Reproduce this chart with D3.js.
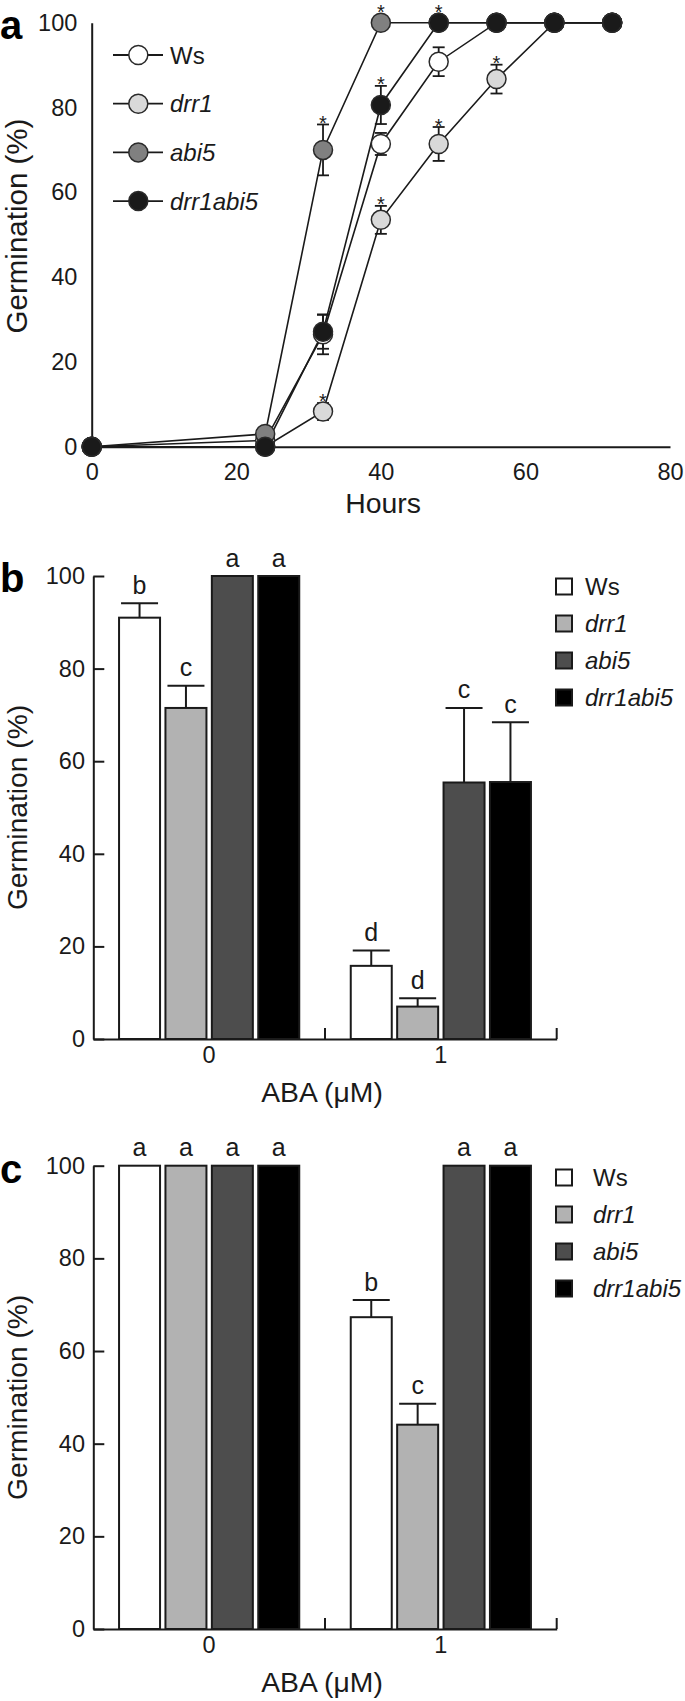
<!DOCTYPE html>
<html>
<head>
<meta charset="utf-8">
<script src="https://cdn.jsdelivr.net/npm/d3@7"></script>
<style>
  html, body { margin: 0; padding: 0; background: #fff; }
  svg { display: block; }
</style>
</head>
<body>
<script>
// ---------------- DATA ----------------
const genotypes = ["Ws", "drr1", "abi5", "drr1abi5"];
const genotypeItalic = [false, true, true, true];

// Panel a: germination time course
const hours = [0, 24, 32, 40, 48, 56, 64, 72];
const wsTime       = [0, 1.5, 26.5, 71.4, 90.8, 100, 100, 100];
const wsTimeErr    = [0, 0, 4.7, 2.6, 3.4, 0, 0, 0];
const drr1Time     = [0, 0, 8.3, 53.5, 71.4, 86.7, 100, 100];
const drr1TimeErr  = [0, 0, 2.0, 3.3, 4.0, 3.4, 0, 0];
const abi5Time     = [0, 3, 70, 100, 100, 100, 100, 100];
const abi5TimeErr  = [0, 0, 6.0, 0, 0, 0, 0, 0];
const drr1abi5Time    = [0, 0, 27.1, 80.6, 100, 100, 100, 100];
const drr1abi5TimeErr = [0, 0, 4.0, 4.5, 0, 0, 0, 0];
const wsStars = [];
const drr1Stars = [32, 40, 48, 56];
const abi5Stars = [32, 40];
const drr1abi5Stars = [40, 48];
const timeTicks = [0, 20, 40, 60, 80];
const pctTicks = [0, 20, 40, 60, 80, 100];

// Panel b: ABA germination
const abaDoses = ["0", "1"];
const bWs = [91, 15.8],        bWsErr = [3.1, 3.3],       bWsLetters = ["b", "d"];
const bDrr1 = [71.5, 7.0],     bDrr1Err = [4.8, 1.8],     bDrr1Letters = ["c", "d"];
const bAbi5 = [100, 55.4],     bAbi5Err = [0, 16.1],      bAbi5Letters = ["a", "c"];
const bDrr1abi5 = [100, 55.5], bDrr1abi5Err = [0, 12.9],  bDrr1abi5Letters = ["a", "c"];

// Panel c
const cWs = [100, 67.3],       cWsErr = [0, 3.7],         cWsLetters = ["a", "b"];
const cDrr1 = [100, 44.1],     cDrr1Err = [0, 4.5],       cDrr1Letters = ["a", "c"];
const cAbi5 = [100, 100],      cAbi5Err = [0, 0],         cAbi5Letters = ["a", "a"];
const cDrr1abi5 = [100, 100],  cDrr1abi5Err = [0, 0],     cDrr1abi5Letters = ["a", "a"];

// ---------------- STYLE ----------------
const FONT = "'Liberation Sans', Arial, Helvetica, sans-serif";
const INK = "#1a1a1a";
const lineColors = ["#ffffff", "#d9d9d9", "#808080", "#1a1a1a"];
const barColors = ["#ffffff", "#b2b2b2", "#4d4d4d", "#000000"];

const svg = d3.select("body").append("svg")
  .attr("width", 685).attr("height", 1701)
  .style("background", "#fff");

function styleAxis(g, fs) {
  g.attr("font-family", FONT).attr("font-size", fs).style("color", INK);
  g.select(".domain").attr("stroke-width", 2);
  g.selectAll(".tick line").attr("stroke-width", 2);
}

function panelLetter(txt, y) {
  svg.append("text").attr("x", 0).attr("y", y)
    .attr("font-family", FONT).attr("font-weight", "bold").attr("font-size", 40)
    .attr("fill", "#000").text(txt);
}

function yTitle(x, y, fs) {
  svg.append("text")
    .attr("transform", `translate(${x},${y}) rotate(-90)`)
    .attr("text-anchor", "middle").attr("font-family", FONT)
    .attr("font-size", fs).attr("fill", INK).text("Germination (%)");
}

// ---------------- PANEL A ----------------
const timeSeries = genotypes.map((name, i) => ({
  name, italic: genotypeItalic[i], color: lineColors[i],
  values: [wsTime, drr1Time, abi5Time, drr1abi5Time][i],
  errs: [wsTimeErr, drr1TimeErr, abi5TimeErr, drr1abi5TimeErr][i],
  stars: [wsStars, drr1Stars, abi5Stars, drr1abi5Stars][i]
}));

const xA = d3.scaleLinear().domain([0, 80]).range([91.7, 670]);
const yA = d3.scaleLinear().domain([0, 100]).range([446.7, 22.7]);
const R = 9.5;

const gA = svg.append("g");
gA.append("g").attr("transform", `translate(0,${yA(0)})`)
  .call(d3.axisBottom(xA).tickValues(timeTicks).tickSize(0).tickPadding(16.6).tickFormat(d3.format("d")))
  .call(g => styleAxis(g, 23.5));
gA.append("g").attr("transform", `translate(${xA(0)},0)`)
  .call(d3.axisLeft(yA).tickValues(pctTicks).tickSize(0).tickPadding(14.4).tickFormat(d3.format("d")))
  .call(g => styleAxis(g, 23.5));

const line = d3.line().x((d, i) => xA(hours[i])).y(d => yA(d));
gA.selectAll(".sline").data(timeSeries).join("path")
  .attr("class", "sline").attr("d", d => line(d.values))
  .attr("fill", "none").attr("stroke", INK).attr("stroke-width", 1.6);

// error bars
timeSeries.forEach(s => {
  s.values.forEach((v, i) => {
    const e = s.errs[i];
    if (!e) return;
    const x = xA(hours[i]);
    const g = gA.append("g").attr("stroke", INK).attr("stroke-width", 1.8);
    g.append("line").attr("x1", x).attr("x2", x).attr("y1", yA(v - e)).attr("y2", yA(v + e));
    [v - e, v + e].forEach(t => g.append("line")
      .attr("x1", x - 6).attr("x2", x + 6).attr("y1", yA(t)).attr("y2", yA(t)));
  });
});

// markers
timeSeries.forEach(s => {
  gA.append("g").selectAll("circle").data(s.values).join("circle")
    .attr("cx", (d, i) => xA(hours[i])).attr("cy", d => yA(d)).attr("r", R)
    .attr("fill", s.color).attr("stroke", "#2a2a2a").attr("stroke-width", 1.5);
});

// stars
timeSeries.forEach(s => {
  s.stars.forEach(h => {
    const i = hours.indexOf(h);
    const v = s.values[i], e = s.errs[i];
    const top = Math.min(yA(v + e), yA(v) - R);
    gA.append("text").attr("x", xA(h)).attr("y", top + 5.5)
      .attr("text-anchor", "middle").attr("font-family", FONT).attr("font-size", 20)
      .attr("fill", INK).text("*");
  });
});

// legend a
timeSeries.forEach((s, i) => {
  const y = 55 + i * 48.7;
  const g = gA.append("g");
  g.append("line").attr("x1", 113).attr("x2", 163).attr("y1", y).attr("y2", y)
    .attr("stroke", INK).attr("stroke-width", 1.8);
  g.append("circle").attr("cx", 138.3).attr("cy", y).attr("r", R)
    .attr("fill", s.color).attr("stroke", "#2a2a2a").attr("stroke-width", 1.5);
  g.append("text").attr("x", 170).attr("y", y + 8.6)
    .attr("font-family", FONT).attr("font-size", 24).attr("fill", INK)
    .attr("font-style", s.italic ? "italic" : "normal").text(s.name);
});

gA.append("text").attr("x", 383).attr("y", 513).attr("text-anchor", "middle")
  .attr("font-family", FONT).attr("font-size", 28.4).attr("fill", INK).text("Hours");
yTitle(27, 226, 29.5);
panelLetter("a", 39);

// ---------------- BAR PANELS ----------------
function barPanel(cfg) {
  const { y0, y100, series, legendY, legendTextX, titleY } = cfg;
  const g = svg.append("g");
  const xB = d3.scaleBand().domain(abaDoses).range([93.3, 556.7]);
  const xIn = d3.scaleBand().domain(genotypes).range([0, xB.bandwidth()])
    .paddingInner(0.1164).paddingOuter(0.555);
  const yB = d3.scaleLinear().domain([0, 100]).range([y0, y100]);

  // bars
  series.forEach((s, si) => {
    g.append("g").selectAll("rect").data(s.values).join("rect")
      .attr("x", (d, i) => xB(abaDoses[i]) + xIn(s.name))
      .attr("width", xIn.bandwidth())
      .attr("y", d => yB(d)).attr("height", d => yB(0) - yB(d))
      .attr("fill", barColors[si]).attr("stroke", INK).attr("stroke-width", 2);
  });
  // error bars + letters
  series.forEach(s => {
    s.values.forEach((v, i) => {
      const cx = xB(abaDoses[i]) + xIn(s.name) + xIn.bandwidth() / 2;
      const e = s.errs[i];
      if (e) {
        g.append("line").attr("x1", cx).attr("x2", cx).attr("y1", yB(v)).attr("y2", yB(v + e))
          .attr("stroke", INK).attr("stroke-width", 2);
        g.append("line").attr("x1", cx - 18.5).attr("x2", cx + 18.5)
          .attr("y1", yB(v + e)).attr("y2", yB(v + e))
          .attr("stroke", INK).attr("stroke-width", 2);
      }
      g.append("text").attr("x", cx).attr("y", yB(v + e) - 9.5)
        .attr("text-anchor", "middle").attr("font-family", FONT).attr("font-size", 25)
        .attr("fill", INK).text(s.letters[i]);
    });
  });

  // axes
  g.append("g").attr("transform", `translate(0,${y0})`)
    .call(d3.axisBottom(xB).tickSize(0).tickPadding(7))
    .call(a => styleAxis(a, 23.5));
  abaDoses.forEach(d => {
    const x = xB(d) + xB.bandwidth();
    g.append("line").attr("x1", x).attr("x2", x).attr("y1", y0).attr("y2", y0 - 11)
      .attr("stroke", INK).attr("stroke-width", 2);
  });
  g.append("g").attr("transform", `translate(93.3,0)`)
    .call(d3.axisLeft(yB).tickValues(pctTicks).tickSizeInner(-11).tickSizeOuter(0).tickPadding(8.3))
    .call(a => styleAxis(a, 23.5));

  // legend
  series.forEach((s, i) => {
    const y = legendY + i * 37;
    g.append("rect").attr("x", 556).attr("y", y - 8).attr("width", 16).attr("height", 16)
      .attr("fill", barColors[i]).attr("stroke", INK).attr("stroke-width", 2);
    g.append("text").attr("x", legendTextX).attr("y", y + 8.6)
      .attr("font-family", FONT).attr("font-size", 24).attr("fill", INK)
      .attr("font-style", genotypeItalic[i] ? "italic" : "normal").text(s.name);
  });

  g.append("text").attr("x", 322).attr("y", titleY).attr("text-anchor", "middle")
    .attr("font-family", FONT).attr("font-size", 28.3).attr("fill", INK).text("ABA (μM)");
  yTitle(27, (y0 + y100) / 2, 28.2);
}

barPanel({
  y0: 1039, y100: 576, legendY: 586.5, legendTextX: 585, titleY: 1101.7,
  series: [
    { name: "Ws", values: bWs, errs: bWsErr, letters: bWsLetters },
    { name: "drr1", values: bDrr1, errs: bDrr1Err, letters: bDrr1Letters },
    { name: "abi5", values: bAbi5, errs: bAbi5Err, letters: bAbi5Letters },
    { name: "drr1abi5", values: bDrr1abi5, errs: bDrr1abi5Err, letters: bDrr1abi5Letters }
  ]
});
panelLetter("b", 591.7);

barPanel({
  y0: 1629, y100: 1165.7, legendY: 1177.5, legendTextX: 593, titleY: 1691.7,
  series: [
    { name: "Ws", values: cWs, errs: cWsErr, letters: cWsLetters },
    { name: "drr1", values: cDrr1, errs: cDrr1Err, letters: cDrr1Letters },
    { name: "abi5", values: cAbi5, errs: cAbi5Err, letters: cAbi5Letters },
    { name: "drr1abi5", values: cDrr1abi5, errs: cDrr1abi5Err, letters: cDrr1abi5Letters }
  ]
});
panelLetter("c", 1183);
</script>
</body>
</html>
